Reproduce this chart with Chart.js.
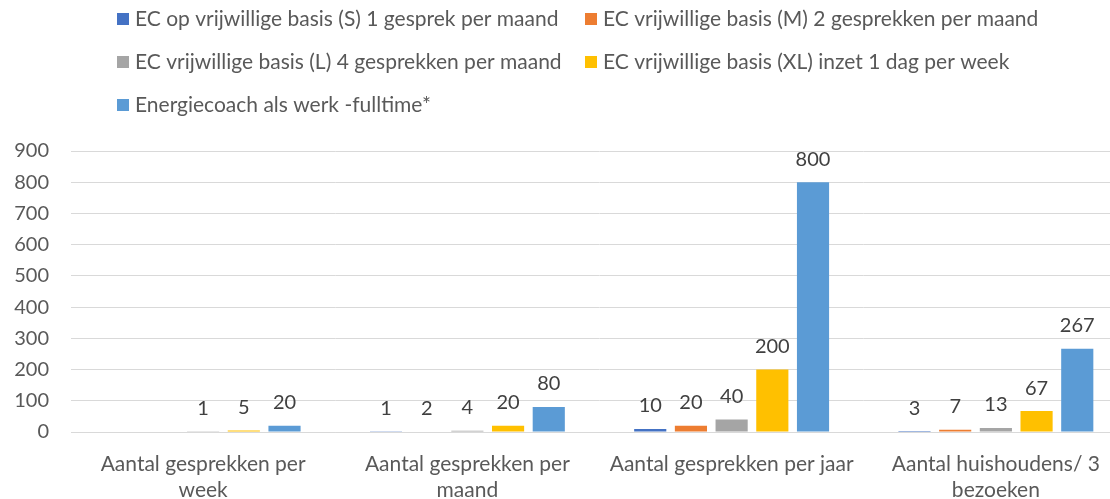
<!DOCTYPE html>
<html>
<head>
<meta charset="utf-8">
<script src="https://cdn.jsdelivr.net/npm/chart.js@4.4.0/dist/chart.umd.min.js"></script>
<style>
  html, body { margin: 0; padding: 0; background: #fff; overflow: hidden; }
  #wrap { width: 1128px; height: 499px; }
</style>
</head>
<body>
<div id="wrap"><canvas id="myChart"></canvas></div>
<script>
const categories = [
  ["Aantal gesprekken per", "week"],
  ["Aantal gesprekken per", "maand"],
  "Aantal gesprekken per jaar",
  ["Aantal huishoudens/ 3", "bezoeken"],
];
const seriesNames = [
  "EC op vrijwillige basis (S) 1 gesprek per maand",
  "EC vrijwillige basis (M) 2 gesprekken per maand",
  "EC vrijwillige basis (L) 4 gesprekken per maand",
  "EC vrijwillige basis (XL) inzet 1 dag per week",
  "Energiecoach als werk -fulltime*",
];
const valuesS = [null, 1, 10, 3];
const valuesM = [null, 2, 20, 7];
const valuesL = [1, 4, 40, 13];
const valuesXL = [5, 20, 200, 67];
const valuesFT = [20, 80, 800, 267];
const yTicks = [0, 100, 200, 300, 400, 500, 600, 700, 800, 900];

const colors = ["#4472c4", "#ed7d31", "#a5a5a5", "#ffc000", "#5b9bd5"];
const font = "Lato";

// legend drawn in a 2-column grid like the original
const gridLegend = {
  id: "gridLegend",
  afterDraw(chart) {
    const ctx = chart.ctx;
    ctx.save();
    ctx.font = "21px " + font;
    ctx.textBaseline = "middle";
    ctx.textAlign = "left";
    chart.data.datasets.forEach((ds, i) => {
      const x = i % 2 === 0 ? 117 : 585;
      const y = 19 + Math.floor(i / 2) * 43;
      ctx.fillStyle = ds.backgroundColor;
      ctx.fillRect(x, y - 6, 12, 12);
      ctx.fillStyle = "#595959";
      ctx.fillText(ds.label, x + 18, y);
    });
    ctx.restore();
  },
};

// value labels above the bars
const barLabels = {
  id: "barLabels",
  afterDatasetsDraw(chart) {
    const ctx = chart.ctx;
    ctx.save();
    ctx.font = "20px " + font;
    ctx.fillStyle = "#404040";
    ctx.textAlign = "center";
    ctx.textBaseline = "middle";
    chart.data.datasets.forEach((ds, i) => {
      chart.getDatasetMeta(i).data.forEach((bar, j) => {
        const v = ds.data[j];
        if (v === null) return;
        ctx.fillText(v, bar.x, bar.y - 23);
      });
    });
    ctx.restore();
  },
};

const allValues = [valuesS, valuesM, valuesL, valuesXL, valuesFT];

new Chart(document.getElementById("myChart"), {
  type: "bar",
  data: {
    labels: categories,
    datasets: allValues.map((vals, i) => ({
      label: seriesNames[i],
      data: vals,
      backgroundColor: colors[i],
      categoryPercentage: 0.77,
      barPercentage: 0.79,
    })),
  },
  options: {
    responsive: true,
    maintainAspectRatio: false,
    animation: false,
    layout: { padding: { top: 151, left: 0, right: 0, bottom: 0 } },
    plugins: {
      legend: { display: false },
      tooltip: { enabled: false },
    },
    scales: {
      x: {
        afterFit: (scale) => {
          scale.height = 67;
        },
        grid: { display: false, drawTicks: false },
        border: { color: "#d9d9d9" },
        ticks: {
          color: "#595959",
          font: { family: font, size: 21, lineHeight: 1.2 },
          padding: 20,
          maxRotation: 0,
          autoSkip: false,
        },
      },
      y: {
        min: 0,
        max: 900,
        afterBuildTicks: (scale) => {
          scale.ticks = yTicks.map((v) => ({ value: v }));
        },
        afterFit: (scale) => {
          scale.width = 71;
        },
        grid: { color: "#d9d9d9", drawTicks: false },
        border: { display: false },
        ticks: {
          color: "#595959",
          font: { family: font, size: 20 },
          padding: 22,
        },
      },
    },
  },
  plugins: [gridLegend, barLabels],
});
</script>
</body>
</html>
